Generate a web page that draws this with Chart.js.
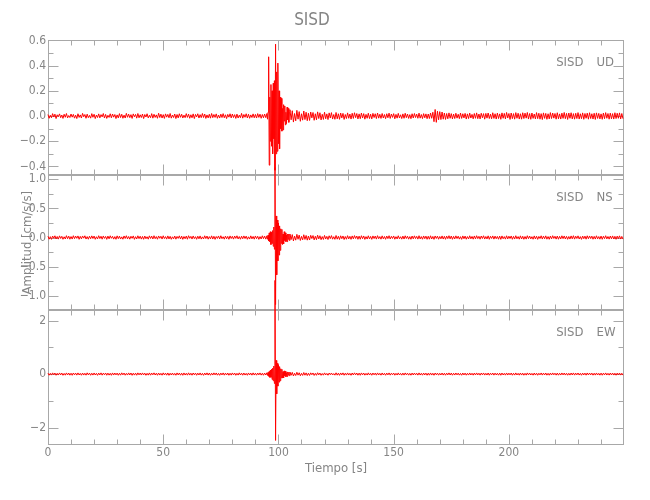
<!DOCTYPE html>
<html lang="es">
<head>
<meta charset="UTF-8">
<title>SISD</title>
<script src="https://cdn.jsdelivr.net/npm/chart.js"></script>
<style>
  body { margin: 0; background: #fff; }
</style>
</head>
<body>
<canvas id="grafico" width="650" height="500"></canvas>
<script>
// --- datos ---
const estacion = 'SISD';
const componentes = ['UD', 'NS', 'EW'];
const ticksX = [0, 50, 100, 150, 200];
const ticksUD = [-0.4, -0.2, 0, 0.2, 0.4, 0.6];
const ticksNS = [-1, -0.5, 0, 0.5, 1];
const ticksEW = [-2, 0, 2];
const rangoUD = [-0.47, 0.6];
const rangoNS = [-1.245, 1.068];
const rangoEW = [-2.65, 2.39];

// muestreo: 0-94.5 s cada 0.5 s, 95-104.75 cada 0.25 s, 105-249.5 cada 0.5 s
function pasos(a, b, d) { const r = []; for (let t = a; t < b - 1e-9; t += d) r.push(+t.toFixed(2)); return r; }
const tiempo = [].concat(pasos(0, 95, 0.5), pasos(95, 105, 0.25), pasos(105, 125, 0.5), pasos(125, 250, 0.5));

// componente vertical (cm/s/s)
const udPre = [.012,-.018,.006,-.014,.019,-.008,.015,-.02,.01,-.005,.017,-.013,.008,-.019,.014,-.01,.02,-.015,.004,-.012,
  .016,-.009,.013,-.017,.007,-.02,.018,-.011,.009,-.016,.021,-.006,.012,-.018,.015,-.013,.005,-.017,.019,-.01,
  .014,-.02,.008,-.012,.017,-.015,.011,-.007,.02,-.016,.013,-.019,.006,-.011,.018,-.014,.016,-.009,.012,-.02,
  .009,-.015,.019,-.012,.014,-.018,.007,-.016,.021,-.01,.015,-.013,.011,-.019,.017,-.006,.013,-.017,.02,-.014,
  .01,-.012,.016,-.02,.012,-.008,.018,-.015,.006,-.013,.019,-.017,.014,-.011,.009,-.018,.022,-.012,.015,-.016,
  .011,-.019,.017,-.009,.013,-.014,.02,-.017,.008,-.012,.016,-.02,.012,-.015,.018,-.01,.014,-.016,.007,-.013,
  .019,-.011,.015,-.018,.01,-.014,.017,-.02,.013,-.007,.018,-.016,.011,-.013,.02,-.012,.016,-.019,.009,-.015,
  .014,-.017,.02,-.013,.012,-.011,.017,-.018,.008,-.016,.015,-.012,.019,-.014,.01,-.02,.013,-.009,.018,-.015,
  .016,-.012,.011,-.019,.015,-.016,.007,-.013,.021,-.017,.012,-.01,.018,-.015,.014,-.018,.009,-.012,.017,-.014,
  .013,-.016,.019,-.011,.015,-.018,.012,-.014,.016,-.013];
const udEvento = [.02,-.025,.03,.47,-.39,.15,-.2,.25,-.24,.2,-.3,.26,-.18,.28,-.43,.57,-.3,.35,-.28,.42,
  -.22,.2,-.26,.15,-.1,.14,-.12,.06,-.11,.09,-.04,.08,-.07,.03,-.06,.07,-.03,.06,-.05,.03];
const udCoda = [.05,-.03,.042,-.048,.02,-.038,.045,-.025,.035,-.042,.018,-.033,.04,-.028,.03,-.037,.022,-.035,.032,-.015,
  .028,-.034,.018,-.03,.033,-.02,.026,-.031,.014,-.027,.03,-.022,.017,-.028,.025,-.016,.027,-.024,.012,-.026];
const udPost = [.028,-.022,.018,-.026,.024,-.015,.021,-.027,.012,-.02,.025,-.018,.016,-.024,.022,-.019,.026,-.013,.02,-.023,
  .017,-.021,.024,-.016,.019,-.025,.013,-.018,.022,-.02,.015,-.023,.021,-.012,.018,-.02,.024,-.017,.014,-.019,
  .02,-.016,.012,-.021,.018,-.014,.023,-.019,.016,-.011,.019,-.022,.013,-.017,.021,-.015,.01,-.02,.017,-.018,
  .022,-.013,.016,-.019,.011,-.021,.018,-.016,.02,-.012,.015,-.018,.023,-.017,.012,-.02,.019,-.014,.017,-.021,
  .016,-.02,.024,-.018,.03,-.045,.052,-.05,.038,-.03,.035,-.028,.032,-.025,.024,-.027,.02,-.022,.025,-.018,
  .019,-.023,.016,-.02,.022,-.017,.014,-.021,.024,-.019,.018,-.015,.021,-.024,.017,-.02,.023,-.016,.013,-.022,
  .02,-.018,.025,-.021,.016,-.023,.022,-.014,.019,-.025,.021,-.017,.024,-.02,.015,-.022,.026,-.019,.018,-.024,
  .023,-.02,.017,-.026,.025,-.018,.021,-.023,.028,-.016,.02,-.027,.024,-.021,.019,-.025,.027,-.018,.022,-.024,
  .018,-.025,.026,-.02,.023,-.017,.028,-.024,.02,-.026,.024,-.019,.016,-.023,.027,-.021,.022,-.025,.019,-.028,
  .025,-.019,.021,-.026,.018,-.023,.027,-.02,.024,-.017,.02,-.025,.026,-.022,.017,-.024,.023,-.019,.028,-.021,
  .021,-.027,.024,-.018,.026,-.023,.019,-.025,.022,-.02,.027,-.024,.018,-.021,.025,-.026,.02,-.018,.023,-.025,
  .026,-.02,.018,-.024,.022,-.027,.025,-.019,.021,-.023,.017,-.026,.024,-.021,.027,-.018,.02,-.025,.023,-.022,
  .019,-.024,.026,-.02,.022,-.018,.025,-.023,.02,-.021];

// componente norte-sur
const nsPre = [.022,-.028,.015,-.031,.026,-.012,.03,-.024,.018,-.027,.029,-.016,.021,-.03,.013,-.025,.032,-.02,.024,-.029,
  .017,-.026,.031,-.019,.025,-.014,.028,-.03,.02,-.023,.027,-.011,.03,-.026,.016,-.029,.023,-.021,.029,-.017,
  .026,-.03,.014,-.024,.031,-.018,.022,-.028,.027,-.015,.019,-.031,.025,-.022,.03,-.013,.021,-.027,.016,-.03,
  .029,-.02,.024,-.026,.012,-.029,.027,-.017,.031,-.023,.018,-.028,.022,-.014,.028,-.031,.015,-.025,.03,-.019,
  .023,-.027,.019,-.03,.026,-.021,.014,-.028,.029,-.016,.024,-.025,.031,-.02,.017,-.029,.027,-.013,.022,-.026,
  .03,-.018,.016,-.027,.028,-.024,.021,-.03,.013,-.022,.026,-.028,.019,-.015,.029,-.025,.024,-.031,.018,-.021,
  .025,-.029,.031,-.014,.02,-.026,.027,-.019,.015,-.03,.023,-.022,.028,-.027,.012,-.024,.03,-.018,.026,-.028,
  .016,-.023,.029,-.026,.022,-.031,.018,-.016,.027,-.025,.031,-.02,.014,-.028,.025,-.022,.02,-.03,.028,-.017,
  .021,-.027,.026,-.015,.03,-.024,.017,-.029,.023,-.021,.028,-.018,.024,-.03,.013,-.026,.029,-.023,.019,-.028,
  .027,-.02,.022,-.031,.016,-.025,.03,-.019,.025,-.027];
const nsEvento = [.03,-.03,.04,-.06,.08,-.07,.1,-.12,.09,-.1,.12,-.15,.18,-.2,1.2,-1.15,.37,-.64,.3,-.4,
  .25,-.3,.2,-.22,.15,-.1,.14,-.12,.06,-.11,.1,-.05,.08,-.07,.04,-.07,.06,-.03,.06,-.05];
const nsCoda = [.06,-.035,.05,-.058,.025,-.045,.055,-.03,.042,-.05,.02,-.04,.048,-.033,.036,-.045,.026,-.042,.038,-.018,
  .034,-.04,.022,-.036,.04,-.024,.031,-.037,.017,-.033,.036,-.026,.02,-.034,.03,-.019,.033,-.028,.015,-.031];
const nsPost = [.035,-.028,.022,-.033,.03,-.02,.027,-.034,.018,-.029,.032,-.024,.021,-.031,.028,-.022,.033,-.017,.026,-.03,
  .024,-.029,.031,-.02,.027,-.032,.016,-.026,.03,-.023,.019,-.031,.028,-.018,.025,-.027,.032,-.021,.017,-.028,
  .029,-.022,.018,-.03,.026,-.019,.031,-.025,.021,-.016,.027,-.029,.015,-.024,.03,-.021,.014,-.028,.025,-.026,
  .03,-.017,.023,-.028,.016,-.03,.026,-.022,.029,-.018,.021,-.027,.031,-.024,.017,-.029,.027,-.02,.024,-.03,
  .022,-.028,.03,-.025,.019,-.031,.027,-.016,.024,-.029,.018,-.022,.028,-.026,.021,-.03,.025,-.019,.031,-.023,
  .026,-.03,.02,-.024,.029,-.018,.023,-.027,.015,-.031,.028,-.021,.025,-.029,.017,-.025,.03,-.022,.019,-.028,
  .027,-.023,.031,-.019,.021,-.028,.026,-.017,.03,-.026,.018,-.024,.029,-.03,.022,-.016,.028,-.027,.024,-.02,
  .019,-.029,.025,-.031,.028,-.021,.016,-.027,.03,-.024,.023,-.018,.027,-.03,.02,-.026,.031,-.022,.017,-.028,
  .029,-.025,.022,-.03,.018,-.027,.031,-.02,.026,-.023,.015,-.029,.028,-.024,.023,-.031,.019,-.018,.03,-.026,
  .024,-.021,.029,-.028,.017,-.03,.025,-.023,.031,-.016,.022,-.027,.026,-.029,.02,-.024,.03,-.019,.027,-.025,
  .021,-.03,.018,-.026,.028,-.022,.031,-.027,.023,-.017,.029,-.025,.016,-.031,.026,-.02,.024,-.028,.03,-.021,
  .027,-.018,.024,-.029,.02,-.026,.03,-.023,.017,-.028,.025,-.03,.022,-.019,.031,-.024,.018,-.027,.026,-.022,
  .028,-.025,.021,-.03,.024,-.02,.029,-.026,.019,-.027];

// componente este-oeste
const ewPre = [.035,-.042,.028,-.038,.045,-.025,.04,-.044,.03,-.036,.043,-.031,.038,-.045,.026,-.04,.044,-.033,.039,-.041,
  .032,-.045,.041,-.029,.036,-.039,.044,-.034,.027,-.043,.04,-.037,.031,-.041,.046,-.03,.037,-.044,.033,-.038,
  .042,-.035,.029,-.046,.038,-.032,.045,-.04,.034,-.027,.041,-.043,.036,-.039,.03,-.045,.043,-.036,.04,-.031,
  .037,-.044,.033,-.04,.046,-.029,.039,-.042,.028,-.037,.044,-.034,.041,-.046,.032,-.038,.036,-.043,.045,-.03,
  .04,-.036,.044,-.031,.035,-.045,.03,-.039,.043,-.041,.038,-.028,.046,-.035,.033,-.044,.041,-.037,.029,-.042,
  .045,-.033,.036,-.04,.042,-.046,.031,-.035,.04,-.038,.027,-.043,.044,-.032,.039,-.041,.034,-.045,.043,-.036,
  .031,-.04,.046,-.037,.033,-.042,.041,-.029,.038,-.044,.035,-.034,.043,-.039,.028,-.046,.04,-.033,.045,-.038,
  .038,-.043,.034,-.036,.045,-.03,.042,-.041,.029,-.045,.037,-.032,.044,-.04,.036,-.035,.041,-.044,.032,-.039,
  .043,-.031,.039,-.045,.03,-.038,.046,-.034,.035,-.042,.041,-.037,.028,-.044,.042,-.033,.037,-.04,.045,-.036,
  .034,-.041,.04,-.03,.044,-.039,.031,-.043,.039,-.035];
const ewEvento = [.05,-.05,.06,-.08,.1,-.12,.15,-.12,.18,-.2,.22,-.25,.3,-.35,3.5,-2.48,.51,-.74,.4,-.45,
  .35,-.3,.28,-.25,.2,-.14,.18,-.15,.09,-.14,.12,-.06,.1,-.1,.05,-.09,.08,-.04,.07,-.06];
const ewCoda = [.075,-.045,.065,-.07,.03,-.055,.068,-.04,.05,-.062,.028,-.05,.058,-.042,.045,-.055,.032,-.05,.046,-.025,
  .042,-.05,.028,-.045,.05,-.03,.04,-.046,.022,-.041,.045,-.032,.026,-.043,.038,-.024,.041,-.035,.02,-.04];
const ewPost = [.048,-.04,.035,-.046,.042,-.031,.045,-.043,.033,-.038,.044,-.036,.03,-.045,.041,-.034,.046,-.029,.039,-.042,
  .036,-.044,.043,-.03,.039,-.041,.028,-.037,.045,-.035,.032,-.043,.04,-.029,.037,-.04,.044,-.033,.03,-.041,
  .042,-.034,.031,-.043,.038,-.03,.044,-.039,.033,-.027,.04,-.042,.029,-.036,.043,-.033,.027,-.04,.037,-.038,
  .043,-.029,.035,-.04,.028,-.042,.038,-.034,.041,-.03,.033,-.039,.044,-.036,.029,-.041,.039,-.032,.036,-.043,
  .034,-.04,.042,-.037,.031,-.044,.039,-.028,.036,-.041,.03,-.034,.04,-.038,.033,-.042,.037,-.031,.044,-.035,
  .038,-.042,.032,-.036,.041,-.03,.035,-.039,.027,-.043,.04,-.033,.037,-.041,.029,-.037,.042,-.034,.031,-.04,
  .039,-.035,.043,-.031,.033,-.04,.038,-.029,.042,-.038,.03,-.036,.041,-.042,.034,-.028,.04,-.039,.036,-.032,
  .031,-.041,.037,-.043,.04,-.033,.028,-.039,.042,-.036,.035,-.03,.039,-.042,.032,-.038,.043,-.034,.029,-.04,
  .041,-.037,.034,-.042,.03,-.039,.043,-.032,.038,-.035,.027,-.041,.04,-.036,.035,-.043,.031,-.03,.042,-.038,
  .036,-.033,.041,-.04,.029,-.042,.037,-.035,.043,-.028,.034,-.039,.038,-.041,.032,-.036,.042,-.031,.039,-.037,
  .033,-.042,.03,-.038,.04,-.034,.043,-.039,.035,-.029,.041,-.037,.028,-.043,.038,-.032,.036,-.04,.042,-.033,
  .039,-.03,.036,-.041,.032,-.038,.042,-.035,.029,-.04,.037,-.042,.034,-.031,.043,-.036,.03,-.039,.038,-.034,
  .04,-.037,.033,-.042,.036,-.032,.041,-.038,.031,-.039];

const amplitudUD = [].concat(udPre, udEvento, udCoda, udPost);
const amplitudNS = [].concat(nsPre, nsEvento, nsCoda, nsPost);
const amplitudEW = [].concat(ewPre, ewEvento, ewCoda, ewPost);

// --- estilo ---
const fuente = '"Liberation Sans Narrow", "DejaVu Sans Condensed", "Liberation Sans", sans-serif';
const gris = '#858585';
const marco = '#a8a8a8';
const menores = { UD: 0.1, NS: 0.25, EW: 1 };

const serie = v => tiempo.map((t, i) => ({ x: t, y: v[i] }));
const menos = s => s.replace('-', '\u2212');

function ejeY(ticks, rango, peso, dec) {
  return {
    type: 'linear', position: 'left', stack: 'paneles', stackWeight: 1, weight: peso,
    min: rango[0], max: rango[1],
    grid: { display: false, drawTicks: false }, border: { display: false },
    afterBuildTicks: s => { s.ticks = ticks.map(v => ({ value: v })); },
    afterFit: s => { s.width = 48; },
    ticks: {
      color: gris, padding: 2, autoSkip: false,
      font: { family: fuente, size: 12 },
      callback: v => menos(v.toFixed(dec))
    }
  };
}

// marcos, marcas de escala y rotulos de cada panel
const marcos = {
  id: 'marcos',
  beforeDatasetsDraw(chart) {
    const { ctx, chartArea: { left, right }, scales } = chart;
    const x = scales.x;
    const linea = (x1, y1, x2, y2) => { ctx.beginPath(); ctx.moveTo(x1, y1); ctx.lineTo(x2, y2); ctx.stroke(); };
    ctx.save();
    ctx.strokeStyle = marco;
    ctx.lineWidth = 1;
    const L = Math.round(left) + 0.5, R = Math.round(right) - 0.5;
    componentes.forEach(c => {
      const y = scales['y' + c];
      const T = Math.round(y.top) + 0.5, B = Math.round(y.bottom) - 0.5;
      ctx.strokeRect(L, T, R - L, B - T);
      for (let v = 0; v <= x.max; v += 10) {
        const px = Math.round(x.getPixelForValue(v)) + 0.5;
        const l = v % 50 === 0 ? 10 : 5;
        linea(px, B, px, B - l);
        linea(px, T, px, T + l);
      }
      const paso = menores[c];
      for (let v = Math.ceil(y.min / paso) * paso; v <= y.max + 1e-9; v += paso) {
        const py = Math.round(y.getPixelForValue(v)) + 0.5;
        const mayor = y.ticks.some(t => Math.abs(t.value - v) < 1e-6);
        const l = mayor ? 10 : 5;
        linea(L, py, L + l, py);
        linea(R, py, R - l, py);
      }
      ctx.fillStyle = gris;
      ctx.font = '13px ' + fuente;
      ctx.textBaseline = 'middle';
      ctx.textAlign = 'right';
      ctx.fillText(estacion, R - 40, y.top + 22);
      ctx.textAlign = 'left';
      ctx.fillText(c, R - 27, y.top + 22);
    });
    ctx.restore();
  },
  afterDraw(chart) {
    const { ctx, scales } = chart;
    const y = scales.yNS;
    ctx.save();
    ctx.fillStyle = gris;
    ctx.font = '13px ' + fuente;
    ctx.textAlign = 'center';
    ctx.textBaseline = 'middle';
    ctx.translate(28, (y.top + y.bottom) / 2);
    ctx.rotate(-Math.PI / 2);
    ctx.fillText('Amplitud [cm/s/s]', 0, 0);
    ctx.restore();
  }
};

const traza = (v, eje) => ({
  data: serie(v), yAxisID: eje,
  borderColor: '#ff0000', borderWidth: 1, pointRadius: 0, tension: 0, clip: false
});

new Chart(document.getElementById('grafico'), {
  type: 'line',
  data: { datasets: [traza(amplitudUD, 'yUD'), traza(amplitudNS, 'yNS'), traza(amplitudEW, 'yEW')] },
  options: {
    responsive: false,
    animation: false,
    events: [],
    layout: { padding: { left: 0, right: 26, top: 0, bottom: 0 } },
    plugins: {
      legend: { display: false },
      tooltip: { enabled: false },
      title: {
        display: true, text: estacion, color: gris,
        font: { family: fuente, size: 17, weight: 'normal', lineHeight: 1.2 },
        padding: { top: 10, bottom: 10 }
      }
    },
    scales: {
      x: {
        type: 'linear', min: 0, max: 249.95,
        grid: { display: false, drawTicks: false }, border: { display: false },
        afterBuildTicks: s => { s.ticks = ticksX.map(v => ({ value: v })); },
        afterFit: s => { s.height = 55; },
        ticks: { color: gris, padding: 1, maxRotation: 0, autoSkip: false, font: { family: fuente, size: 12 } },
        title: { display: true, text: 'Tiempo [s]', color: gris, font: { family: fuente, size: 13 }, padding: { top: 0, bottom: 24 } }
      },
      yUD: ejeY(ticksUD, rangoUD, 3, 1),
      yNS: ejeY(ticksNS, rangoNS, 2, 1),
      yEW: ejeY(ticksEW, rangoEW, 1, 0)
    }
  },
  plugins: [marcos]
});
</script>
</body>
</html>
